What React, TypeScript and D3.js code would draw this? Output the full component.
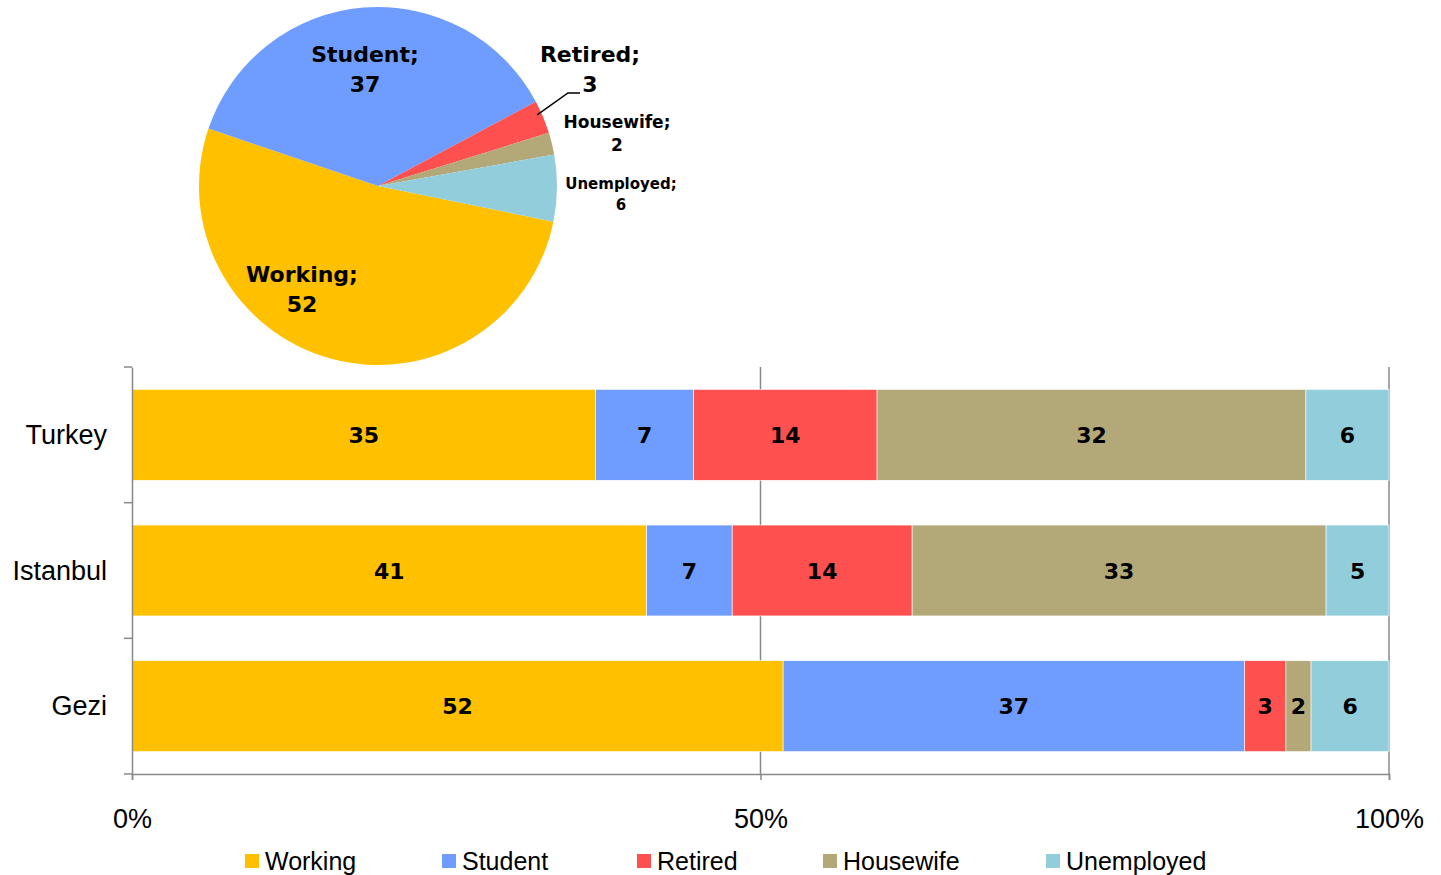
import { useEffect, useRef } from "react"
import * as d3 from "d3"

const CATEGORIES = ["Working", "Student", "Retired", "Housewife", "Unemployed"]
const COLORS = ["#FFC000", "#6F9DFF", "#FF5050", "#B2A878", "#92CDDC"]
const PLACES = ["Turkey", "Istanbul", "Gezi"]
// shares (labels are rounded)
const TURKEY = [34.6, 7.3, 13.7, 32.0, 6.2]
const ISTANBUL = [40.9, 6.8, 14.3, 32.9, 5.0]
const GEZI = [51.8, 36.7, 3.3, 2.0, 6.2]
const PIE_VALUES = [52, 37, 3, 2, 6]
const X_TICKS = [0, 0.5, 1]

const BOLD = "'DejaVu Sans', sans-serif"
const REG = "'Liberation Sans', Arial, sans-serif"

export default function App() {
  const svgRef = useRef<SVGSVGElement>(null)

  useEffect(() => {
    const svg = d3.select(svgRef.current)
    svg.selectAll("*").remove()

    // ---- stacked bars
    const rows = [TURKEY, ISTANBUL, GEZI].map((vals, i) => {
      const o: any = { place: PLACES[i] }
      CATEGORIES.forEach((c, j) => (o[c] = vals[j]))
      return o
    })
    const series = d3.stack().keys(CATEGORIES).offset(d3.stackOffsetExpand)(rows)

    const x = d3.scaleLinear().domain([0, 1]).range([132, 1389])
    const y = d3.scaleBand().domain(PLACES).range([367, 774]).paddingInner(0.33).paddingOuter(0.165)

    // gridlines
    svg.append("g").selectAll("line").data([0.5, 1]).join("line")
      .attr("x1", d => x(d)).attr("x2", d => x(d))
      .attr("y1", 367).attr("y2", 774)
      .attr("stroke", "#888").attr("stroke-width", 1.5)

    const g = svg.append("g")
    series.forEach((s, j) => {
      g.append("g").selectAll("rect").data(s).join("rect")
        .attr("x", d => x(d[0]))
        .attr("width", d => x(d[1]) - x(d[0]))
        .attr("y", (d: any) => y(d.data.place)!)
        .attr("height", y.bandwidth())
        .attr("fill", COLORS[j])
        .attr("stroke", "#fff").attr("stroke-width", 0.6)
      g.append("g").selectAll("text").data(s).join("text")
        .attr("x", d => (x(d[0]) + x(d[1])) / 2)
        .attr("y", (d: any) => y(d.data.place)! + y.bandwidth() / 2 + 8)
        .attr("text-anchor", "middle")
        .attr("font-family", BOLD).attr("font-weight", "bold").attr("font-size", 22)
        .text((d: any) => Math.round(d.data[s.key]))
    })

    // axes
    const xAxis = svg.append("g").attr("transform", "translate(0,774)")
      .call(d3.axisBottom(x).tickValues(X_TICKS).tickSize(6).tickFormat(d3.format(".0%")))
    xAxis.selectAll("text").attr("font-family", REG).attr("font-size", 27).attr("fill", "#000").attr("dy", 45)
    const yAxis = svg.append("g").attr("transform", "translate(132,0)")
      .call(d3.axisLeft(y).tickSize(0).tickPadding(25))
    yAxis.selectAll("text").attr("font-family", REG).attr("font-size", 27).attr("fill", "#000").attr("dy", 9)
    // boundary ticks on category axis
    const bounds = d3.range(PLACES.length + 1).map(i => 367 + i * (774 - 367) / PLACES.length)
    svg.append("g").selectAll("line").data(bounds).join("line")
      .attr("x1", 124).attr("x2", 132).attr("y1", d => d).attr("y2", d => d)
      .attr("stroke", "#888").attr("stroke-width", 1.5)
    svg.selectAll(".domain").attr("stroke", "#888").attr("stroke-width", 1.5)
    svg.selectAll(".tick line").attr("stroke", "#888").attr("stroke-width", 1.5)

    // ---- pie (Gezi)
    const cx = 378, cy = 186, r = 179
    const start = (101.5 * Math.PI) / 180
    const pie = d3.pie<number>().sort(null).startAngle(start).endAngle(start + 2 * Math.PI)(PIE_VALUES)
    const arc = d3.arc<d3.PieArcDatum<number>>().innerRadius(0).outerRadius(r)
    const pg = svg.append("g").attr("transform", `translate(${cx},${cy})`)
    pg.selectAll("path").data(pie).join("path")
      .attr("d", arc).attr("fill", (d, i) => COLORS[i])

    const pieLabels = [
      { x: 302, y: 282, size: 22, dy: 30 },
      { x: 365, y: 62, size: 22, dy: 30 },
      { x: 590, y: 62, size: 22, dy: 30 },
      { x: 617, y: 128, size: 17, dy: 23 },
      { x: 621, y: 189, size: 15, dy: 21 },
    ]
    pie.forEach((d, i) => {
      const p = pieLabels[i]
      const t = svg.append("text")
        .attr("text-anchor", "middle")
        .attr("font-family", BOLD).attr("font-weight", "bold").attr("font-size", p.size)
      t.append("tspan").attr("x", p.x).attr("y", p.y).text(CATEGORIES[i] + ";")
      t.append("tspan").attr("x", p.x).attr("y", p.y + p.dy).text(d.data)
    })
    // leader line to Retired label
    const a = (pie[2].startAngle + pie[2].endAngle) / 2
    svg.append("polyline")
      .attr("points", `${cx + Math.sin(a) * r - 6},${cy - Math.cos(a) * r - 2} 568,93 580,93`)
      .attr("fill", "none").attr("stroke", "#000").attr("stroke-width", 1.5)

    // ---- legend
    const lx = [245, 442, 637, 823, 1046]
    const lg = svg.append("g")
    CATEGORIES.forEach((c, i) => {
      lg.append("rect").attr("x", lx[i]).attr("y", 854).attr("width", 14).attr("height", 14).attr("fill", COLORS[i])
      lg.append("text").attr("x", lx[i] + 20).attr("y", 870)
        .attr("font-family", REG).attr("font-size", 25).attr("fill", "#000").text(c)
    })
  }, [])

  return (
    <svg ref={svgRef} width={1441} height={875}
      style={{ position: "absolute", left: 0, top: 0, background: "#fff" }} />
  )
}
